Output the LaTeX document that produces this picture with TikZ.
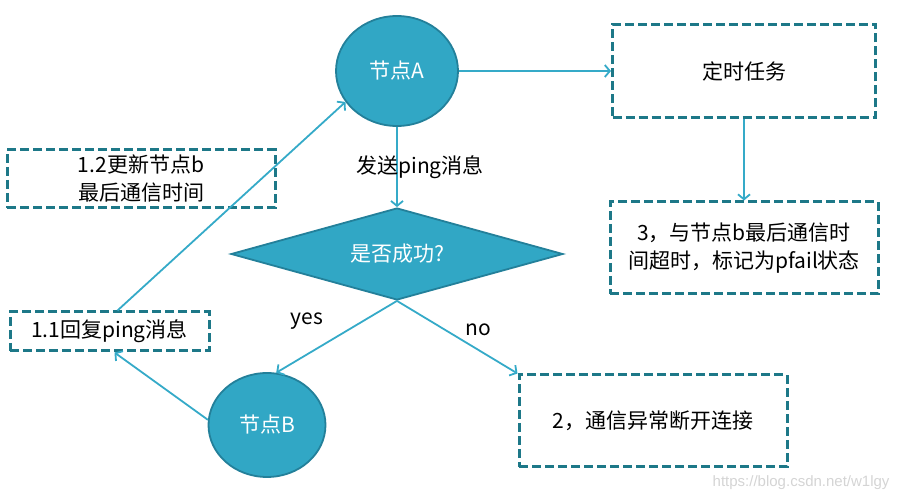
\documentclass[tikz,border=0pt]{standalone}
\usepackage{fontspec}
\setmainfont{Noto Sans CJK SC}
\newfontfamily\wmfont{Liberation Sans}
\usetikzlibrary{shapes.geometric,arrows.meta}
\definecolor{nodefill}{HTML}{31A7C5}
\definecolor{nodeline}{HTML}{23809A}
\definecolor{linkcol}{HTML}{35AAC8}
\definecolor{boxline}{HTML}{1D7888}

\begin{document}
\begin{tikzpicture}[x=1pt,y=-1pt,font=\fontsize{21}{28}\selectfont,
		circ/.style={ellipse,draw=nodeline,line width=1.8pt,fill=nodefill,text=white,inner sep=0pt},
		dbox/.style={draw=boxline,line width=3pt,dash pattern=on 9pt off 4pt,align=center,inner sep=0pt},
		link/.style={draw=linkcol,line width=1.8pt,-{Straight Barb[length=5pt,width=12pt]}}]
		\useasboundingbox (0,0) rectangle (903,502);
		\node[circ,minimum width=122pt,minimum height=110pt] (nodeA) at (397,71) {节点A};
		\node[circ,minimum width=117pt,minimum height=104pt] (nodeB) at (267,425) {节点B};
		\node[diamond,draw=nodeline,line width=1.8pt,fill=nodefill,text=white,inner sep=0pt,aspect=3.6,
			minimum width=332pt,minimum height=92pt] (decide) at (397,254) {是否成功?};
		\node[dbox,minimum width=263pt,minimum height=93pt] (timer) at (744,71) {定时任务};
		\node[dbox,minimum width=268pt,minimum height=92pt] (fail) at (744,248) {3，与节点b最后通信时\\间超时，标记为pfail状态};
		\node[dbox,minimum width=268pt,minimum height=92pt] (cut) at (653,421) {2，通信异常断开连接};
		\node[dbox,minimum width=268pt,minimum height=58pt] (update) at (141,179) {1.2更新节点b\\最后通信时间};
		\node[dbox,minimum width=199pt,minimum height=39pt] (reply) at (109.5,331.5) {1.1回复ping消息};
		\draw[link] (nodeA) -- (timer);
		\draw[link] (timer) -- (fail);
		\draw[link] (nodeA) -- node[right,text=black,xshift=-45pt] (send) {发送ping消息} (decide);
		\draw[link] (decide.south) -- (nodeB.80);
		\draw[link] (decide.south) -- (cut.north west);
		\draw[link] (nodeB.175) -- ([xshift=5pt]reply.south);
		\draw[link] ([xshift=8pt]reply.north) -- (nodeA.211);
		\node (yes) at (307,321) {yes};
		\node (no) at (478,330) {no};
		\node[text=black!17,font=\wmfont\fontsize{15}{17}\selectfont,anchor=east] (mark) at (893,483) {https://blog.csdn.net/w1lgy};
	\end{tikzpicture}
\end{document}
